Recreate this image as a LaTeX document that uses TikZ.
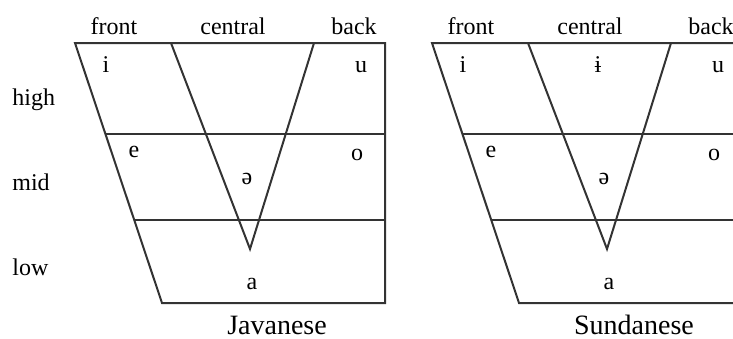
\documentclass[tikz,border=0pt]{standalone}
\usepackage{fontspec}
\setmainfont{Liberation Serif}
\usetikzlibrary{positioning}

\begin{document}
\begin{tikzpicture}[x=0.5pt,y=-0.5pt,
  chart/.style={line width=1pt,black!80},
  lab/.style={font=\fontsize{12}{14}\selectfont,inner sep=0pt,anchor=base},
  ttl/.style={font=\fontsize{14}{16}\selectfont,inner sep=0pt,anchor=base}]
 \useasboundingbox (0,0) rectangle (733,338);
 \clip (0,0) rectangle (733,338);
 % height labels
 \node[lab,anchor=base west] (high) at (12,105) {high};
 \node[lab,anchor=base west] (mid) at (12,190) {mid};
 \node[lab,anchor=base west] (low) at (12,275) {low};
 % the two vowel charts
 \foreach \o/\n/\t in {0/jav/Javanese,357/sun/Sundanese}{
  \begin{scope}[shift={(\o,0)}]
   \draw[chart] (75,43) -- (385,43) -- (385,303) -- (162,303) -- cycle;
   \draw[chart] (106,134) -- (385,134);
   \draw[chart] (135,220) -- (385,220);
   \draw[chart] (171,43) -- (250,249) -- (314,43);
   \node[lab] (\n-front) at (114,34) {front};
   \node[lab] (\n-central) at (233,34) {central};
   \node[lab] (\n-back) at (354,34) {back};
   \node[lab] (\n-i) at (106,72) {i};
   \node[lab] (\n-u) at (361,72) {u};
   \node[lab] (\n-e) at (134,157) {e};
   \node[lab] (\n-o) at (357,160) {o};
   \node[lab] (\n-schwa) at (247,184) {ə};
   \node[lab] (\n-a) at (252,289) {a};
   \node[ttl] (\n-title) at (277,334) {\t};
  \end{scope}}
 \node[lab] (sun-barred-i) at (598,72) {ɨ};
\end{tikzpicture}
\end{document}
